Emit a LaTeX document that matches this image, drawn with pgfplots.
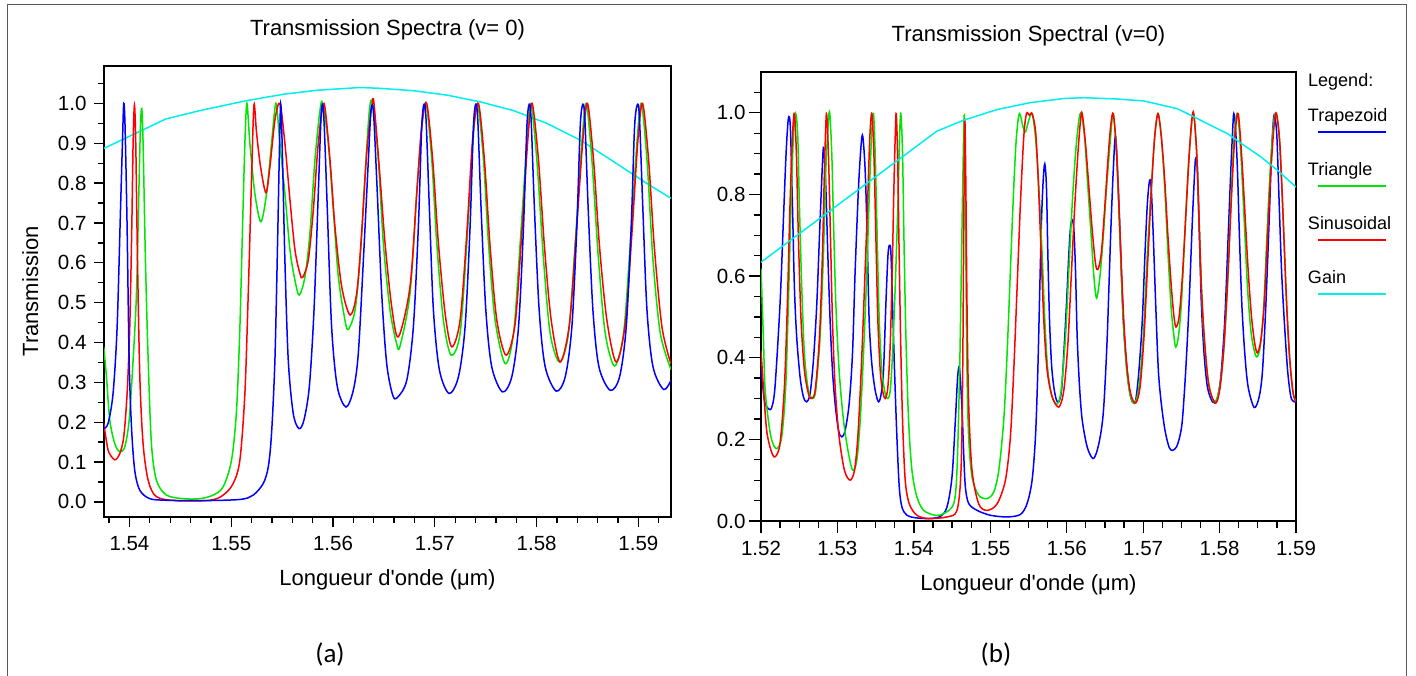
\documentclass[border=0pt]{standalone}
\usepackage{fontspec}
\setmainfont{Liberation Sans}[Ligatures=TeXOff]
\newfontfamily\capfont{Carlito}
\usepackage{pgfplots}
\pgfplotsset{compat=1.18}
\definecolor{cblue}{RGB}{0,0,255}
\definecolor{cgreen}{RGB}{0,230,0}
\definecolor{cred}{RGB}{255,0,0}
\definecolor{ccyan}{RGB}{0,238,238}
\definecolor{framecol}{RGB}{90,90,90}
\newcommand{\tickfont}{\fontsize{20.5}{24}\selectfont}
\newcommand{\labfont}{\fontsize{22}{26}\selectfont}
\pgfplotsset{
  mystyle/.style={
    scale only axis,
    axis line style={line width=1.5pt, black},
    tick style={line width=1.3pt, black},
    tick align=outside,
    xtick pos=bottom, ytick pos=left,
    /pgf/number format/assume math mode=true,
    tick label style={font=\tickfont},
    label style={font=\labfont},
    title style={font=\labfont},
    scaled x ticks=false, scaled y ticks=false,
    xticklabel style={/pgf/number format/fixed, /pgf/number format/fixed zerofill, /pgf/number format/precision=2},
    yticklabel style={/pgf/number format/fixed, /pgf/number format/fixed zerofill, /pgf/number format/precision=1},
    every axis plot/.append style={line width=1.5pt, mark=none, smooth, tension=0.5},
  }
}
\begin{document}
\begin{tikzpicture}[x=1pt,y=1pt]
\path[use as bounding box] (0,0) rectangle (1416,676);
\draw[framecol, line width=1.2pt] (7.5,0) -- (7.5,671.5) -- (1406.5,671.5) -- (1406.5,0);
% ---------------- panel (a)
\begin{axis}[mystyle, at={(104pt,159pt)}, anchor=south west, width=567pt, height=451pt,
  xmin=1.5375, xmax=1.5932, ymin=-0.038, ymax=1.094,
  major tick length=10pt, minor tick length=6pt,
  xtick={1.54,1.55,1.56,1.57,1.58,1.59},
  minor xtick={1.538,1.542,1.544,1.546,1.548,1.552,1.554,1.556,1.558,1.562,1.564,1.566,1.568,1.572,1.574,1.576,1.578,1.582,1.584,1.586,1.588,1.592},
  ytick={0,0.1,0.2,0.3,0.4,0.5,0.6,0.7,0.8,0.9,1.0},
  minor ytick={0.05,0.15,0.25,0.35,0.45,0.55,0.65,0.75,0.85,0.95,1.05},
  xticklabel style={yshift=-6pt},
  yticklabel style={xshift=-4pt},
  title={Transmission Spectra (v= 0)},
  title style={at={(axis description cs:0.5,1.0543)}, anchor=base},
  xlabel={Longueur d'onde (μm)},
  xlabel style={at={(axis description cs:0.5,-0.153)}, anchor=base},
  ylabel={Transmission},
  ylabel style={at={(axis description cs:-0.1164,0.5)}, anchor=base},
]
\addplot[ccyan, sharp plot] coordinates {(1.53748,0.887)(1.54357,0.961)(1.54692,0.982)(1.55150,1.007)(1.55511,1.023)(1.55839,1.033)(1.56265,1.040)(1.56461,1.038)(1.56789,1.032)(1.57117,1.021)(1.57445,1.004)(1.57773,0.982)(1.58100,0.950)(1.58428,0.908)(1.58756,0.854)(1.59084,0.799)(1.59320,0.762)};
\addplot[cgreen] coordinates {(1.53748,0.389)(1.53774,0.314)(1.53807,0.205)(1.53856,0.146)(1.53905,0.126)(1.53954,0.138)(1.53997,0.205)(1.54036,0.356)(1.54069,0.523)(1.54092,0.774)(1.54108,0.941)(1.54121,0.987)(1.54134,0.900)(1.54157,0.607)(1.54184,0.356)(1.54216,0.146)(1.54265,0.054)(1.54364,0.017)(1.54528,0.008)(1.54692,0.008)(1.54823,0.017)(1.54921,0.038)(1.55003,0.105)(1.55052,0.230)(1.55085,0.439)(1.55111,0.690)(1.55134,0.900)(1.55154,1.000)(1.55183,0.900)(1.55232,0.774)(1.55291,0.703)(1.55347,0.774)(1.55396,0.900)(1.55439,1.000)(1.55478,0.900)(1.55527,0.774)(1.55577,0.632)(1.55626,0.556)(1.55668,0.519)(1.55724,0.565)(1.55773,0.674)(1.55822,0.858)(1.55872,0.983)(1.55898,1.000)(1.55953,0.900)(1.56003,0.732)(1.56052,0.565)(1.56117,0.456)(1.56150,0.433)(1.56216,0.481)(1.56265,0.607)(1.56314,0.816)(1.56357,0.983)(1.56389,1.000)(1.56445,0.858)(1.56494,0.649)(1.56560,0.481)(1.56625,0.397)(1.56658,0.391)(1.56756,0.523)(1.56822,0.774)(1.56871,0.941)(1.56914,1.000)(1.56970,0.858)(1.57019,0.649)(1.57084,0.456)(1.57160,0.368)(1.57248,0.423)(1.57314,0.649)(1.57373,0.900)(1.57419,1.000)(1.57478,0.858)(1.57527,0.649)(1.57592,0.456)(1.57691,0.347)(1.57773,0.423)(1.57838,0.649)(1.57904,0.900)(1.57943,1.000)(1.58002,0.858)(1.58068,0.607)(1.58133,0.423)(1.58225,0.351)(1.58313,0.423)(1.58379,0.649)(1.58444,0.900)(1.58487,1.000)(1.58543,0.858)(1.58608,0.607)(1.58674,0.423)(1.58766,0.341)(1.58854,0.423)(1.58920,0.649)(1.58985,0.900)(1.59028,1.000)(1.59084,0.858)(1.59143,0.607)(1.59215,0.423)(1.59320,0.332)};
\addplot[cred] coordinates {(1.53748,0.197)(1.53790,0.130)(1.53839,0.109)(1.53866,0.106)(1.53905,0.121)(1.53944,0.163)(1.53977,0.272)(1.54003,0.439)(1.54023,0.690)(1.54036,0.900)(1.54049,0.996)(1.54062,0.900)(1.54079,0.607)(1.54102,0.314)(1.54134,0.146)(1.54184,0.054)(1.54265,0.013)(1.54462,0.003)(1.54790,0.004)(1.54921,0.017)(1.55019,0.046)(1.55085,0.105)(1.55134,0.272)(1.55167,0.523)(1.55200,0.816)(1.55223,0.996)(1.55249,0.925)(1.55288,0.841)(1.55341,0.776)(1.55380,0.841)(1.55429,0.958)(1.55478,1.000)(1.55527,0.900)(1.55577,0.757)(1.55626,0.632)(1.55675,0.573)(1.55701,0.563)(1.55757,0.607)(1.55806,0.732)(1.55855,0.900)(1.55911,1.000)(1.55970,0.858)(1.56019,0.690)(1.56085,0.540)(1.56167,0.469)(1.56232,0.523)(1.56281,0.674)(1.56330,0.874)(1.56380,0.992)(1.56402,1.000)(1.56461,0.816)(1.56511,0.649)(1.56576,0.490)(1.56642,0.414)(1.56756,0.540)(1.56822,0.774)(1.56871,0.941)(1.56920,1.000)(1.56979,0.858)(1.57035,0.649)(1.57101,0.473)(1.57166,0.389)(1.57248,0.456)(1.57314,0.674)(1.57373,0.916)(1.57428,1.000)(1.57487,0.858)(1.57543,0.640)(1.57609,0.456)(1.57700,0.368)(1.57789,0.448)(1.57854,0.674)(1.57913,0.908)(1.57956,1.000)(1.58018,0.858)(1.58077,0.640)(1.58143,0.456)(1.58231,0.351)(1.58323,0.448)(1.58389,0.674)(1.58454,0.908)(1.58500,1.000)(1.58559,0.858)(1.58618,0.640)(1.58690,0.456)(1.58782,0.351)(1.58871,0.448)(1.58936,0.674)(1.58995,0.908)(1.59041,1.000)(1.59100,0.858)(1.59156,0.640)(1.59231,0.439)(1.59320,0.346)};
\addplot[cblue] coordinates {(1.53748,0.184)(1.53790,0.197)(1.53839,0.272)(1.53879,0.439)(1.53912,0.732)(1.53931,0.900)(1.53944,1.000)(1.53957,0.941)(1.53977,0.690)(1.53997,0.356)(1.54020,0.188)(1.54052,0.079)(1.54102,0.029)(1.54200,0.008)(1.54364,0.004)(1.54692,0.003)(1.55085,0.006)(1.55216,0.017)(1.55314,0.046)(1.55364,0.088)(1.55396,0.172)(1.55429,0.356)(1.55455,0.649)(1.55478,0.941)(1.55488,0.996)(1.55504,0.858)(1.55527,0.607)(1.55560,0.356)(1.55609,0.222)(1.55665,0.184)(1.55714,0.205)(1.55767,0.289)(1.55813,0.481)(1.55855,0.774)(1.55882,0.967)(1.55898,0.996)(1.55914,0.941)(1.55944,0.732)(1.55986,0.439)(1.56042,0.289)(1.56127,0.238)(1.56199,0.280)(1.56248,0.372)(1.56298,0.607)(1.56347,0.858)(1.56370,0.975)(1.56386,0.996)(1.56402,0.958)(1.56435,0.774)(1.56478,0.523)(1.56527,0.347)(1.56586,0.268)(1.56632,0.262)(1.56724,0.305)(1.56789,0.439)(1.56838,0.690)(1.56871,0.941)(1.56894,0.998)(1.56914,0.958)(1.56947,0.732)(1.56986,0.481)(1.57045,0.331)(1.57140,0.272)(1.57232,0.314)(1.57297,0.439)(1.57346,0.690)(1.57379,0.941)(1.57402,0.998)(1.57422,0.958)(1.57455,0.732)(1.57501,0.481)(1.57559,0.339)(1.57664,0.276)(1.57756,0.314)(1.57822,0.439)(1.57871,0.690)(1.57904,0.941)(1.57927,0.998)(1.57946,0.958)(1.57979,0.732)(1.58025,0.481)(1.58084,0.339)(1.58192,0.278)(1.58281,0.314)(1.58346,0.439)(1.58395,0.690)(1.58428,0.941)(1.58454,0.998)(1.58474,0.958)(1.58507,0.732)(1.58553,0.481)(1.58612,0.339)(1.58723,0.280)(1.58815,0.314)(1.58880,0.439)(1.58929,0.690)(1.58962,0.941)(1.58992,0.998)(1.59011,0.958)(1.59044,0.732)(1.59084,0.481)(1.59143,0.339)(1.59247,0.282)(1.59320,0.305)};
\end{axis}
% ---------------- panel (b)
\begin{axis}[mystyle, at={(761pt,155pt)}, anchor=south west, width=535pt, height=449pt,
  xmin=1.52, xmax=1.59, ymin=0, ymax=1.1,
  major tick length=12pt, minor tick length=7pt,
  xtick={1.52,1.53,1.54,1.55,1.56,1.57,1.58,1.59},
  minor xtick={1.5225,1.525,1.5275,1.5325,1.535,1.5375,1.5425,1.545,1.5475,1.5525,1.555,1.5575,1.5625,1.565,1.5675,1.5725,1.575,1.5775,1.5825,1.585,1.5875},
  ytick={0,0.2,0.4,0.6,0.8,1.0},
  minor ytick={0.05,0.1,0.15,0.25,0.3,0.35,0.45,0.5,0.55,0.65,0.7,0.75,0.85,0.9,0.95,1.05},
  xticklabel style={yshift=-5pt},
  title={Transmission Spectral (v=0)},
  title style={at={(axis description cs:0.5,1.0535)}, anchor=base},
  xlabel={Longueur d'onde (μm)},
  xlabel style={at={(axis description cs:0.5,-0.1559)}, anchor=base},
  legend style={draw=none, fill=none, at={(axis description cs:1.0224,0.9198)}, anchor=north west,
    inner sep=0pt, outer sep=0pt, row sep=37pt, column sep=0pt,
    font=\fontsize{18}{21}\selectfont,
    nodes={inner sep=0pt, text height=13pt, text depth=4pt}},
  legend cell align=left,
  legend image code/.code={\pgfinterruptboundingbox\draw[#1,line width=2pt] (10pt,-15pt) -- (78pt,-15pt);\endpgfinterruptboundingbox},
]
\addplot[cblue] coordinates {(1.52000,0.377)(1.52044,0.296)(1.52096,0.275)(1.52140,0.278)(1.52183,0.328)(1.52249,0.532)(1.52293,0.737)(1.52328,0.900)(1.52358,0.986)(1.52384,0.965)(1.52411,0.777)(1.52437,0.573)(1.52467,0.451)(1.52511,0.353)(1.52555,0.304)(1.52599,0.292)(1.52642,0.312)(1.52686,0.394)(1.52730,0.532)(1.52773,0.737)(1.52804,0.875)(1.52821,0.914)(1.52848,0.818)(1.52874,0.655)(1.52904,0.492)(1.52935,0.369)(1.52970,0.287)(1.53014,0.222)(1.53057,0.206)(1.53101,0.222)(1.53153,0.287)(1.53197,0.410)(1.53232,0.614)(1.53276,0.818)(1.53311,0.924)(1.53332,0.942)(1.53363,0.859)(1.53389,0.696)(1.53415,0.492)(1.53450,0.385)(1.53494,0.320)(1.53538,0.292)(1.53573,0.312)(1.53603,0.369)(1.53634,0.532)(1.53660,0.647)(1.53678,0.675)(1.53699,0.659)(1.53721,0.532)(1.53747,0.369)(1.53778,0.206)(1.53809,0.083)(1.53844,0.034)(1.53909,0.014)(1.54018,0.008)(1.54193,0.006)(1.54346,0.011)(1.54433,0.034)(1.54499,0.108)(1.54543,0.247)(1.54573,0.353)(1.54595,0.377)(1.54617,0.320)(1.54634,0.255)(1.54652,0.165)(1.54674,0.083)(1.54717,0.043)(1.54827,0.026)(1.55001,0.014)(1.55220,0.010)(1.55394,0.016)(1.55482,0.043)(1.55547,0.100)(1.55591,0.206)(1.55622,0.369)(1.55648,0.573)(1.55670,0.737)(1.55692,0.834)(1.55713,0.875)(1.55735,0.818)(1.55753,0.655)(1.55775,0.492)(1.55801,0.385)(1.55831,0.328)(1.55866,0.296)(1.55897,0.292)(1.55932,0.320)(1.55962,0.410)(1.55997,0.532)(1.56028,0.655)(1.56050,0.720)(1.56072,0.738)(1.56094,0.712)(1.56115,0.614)(1.56137,0.451)(1.56168,0.328)(1.56203,0.247)(1.56268,0.181)(1.56343,0.153)(1.56399,0.173)(1.56452,0.222)(1.56487,0.287)(1.56530,0.451)(1.56574,0.696)(1.56609,0.859)(1.56640,0.941)(1.56683,0.777)(1.56714,0.614)(1.56740,0.492)(1.56771,0.410)(1.56814,0.328)(1.56858,0.292)(1.56902,0.296)(1.56945,0.369)(1.56989,0.492)(1.57024,0.655)(1.57055,0.777)(1.57085,0.835)(1.57107,0.810)(1.57133,0.696)(1.57164,0.532)(1.57199,0.369)(1.57238,0.287)(1.57286,0.222)(1.57339,0.181)(1.57382,0.173)(1.57435,0.181)(1.57478,0.206)(1.57513,0.247)(1.57557,0.369)(1.57601,0.532)(1.57644,0.737)(1.57675,0.859)(1.57688,0.888)(1.57710,0.859)(1.57736,0.696)(1.57762,0.532)(1.57797,0.410)(1.57841,0.328)(1.57907,0.292)(1.57963,0.296)(1.58016,0.353)(1.58068,0.492)(1.58112,0.696)(1.58147,0.859)(1.58173,0.965)(1.58186,0.998)(1.58208,0.965)(1.58234,0.859)(1.58260,0.696)(1.58291,0.532)(1.58330,0.410)(1.58374,0.328)(1.58453,0.278)(1.58518,0.304)(1.58562,0.369)(1.58606,0.532)(1.58649,0.737)(1.58680,0.900)(1.58706,0.986)(1.58724,0.990)(1.58750,0.941)(1.58780,0.777)(1.58811,0.614)(1.58846,0.492)(1.58890,0.369)(1.58933,0.304)(1.58977,0.292)(1.59000,0.292)};
\addlegendentry{Trapezoid}
\addplot[cgreen] coordinates {(1.52000,0.618)(1.52031,0.451)(1.52052,0.328)(1.52096,0.247)(1.52140,0.198)(1.52205,0.177)(1.52271,0.206)(1.52323,0.328)(1.52358,0.532)(1.52393,0.777)(1.52424,0.941)(1.52454,0.998)(1.52481,0.941)(1.52502,0.777)(1.52533,0.573)(1.52568,0.410)(1.52620,0.320)(1.52673,0.300)(1.52716,0.320)(1.52773,0.451)(1.52817,0.655)(1.52848,0.859)(1.52882,0.982)(1.52900,0.998)(1.52926,0.900)(1.52948,0.737)(1.52979,0.532)(1.53022,0.369)(1.53079,0.247)(1.53145,0.165)(1.53201,0.124)(1.53254,0.149)(1.53298,0.247)(1.53341,0.410)(1.53385,0.614)(1.53420,0.818)(1.53450,0.957)(1.53472,0.998)(1.53494,0.900)(1.53520,0.696)(1.53547,0.492)(1.53581,0.369)(1.53625,0.312)(1.53660,0.300)(1.53691,0.320)(1.53721,0.410)(1.53756,0.573)(1.53791,0.777)(1.53813,0.941)(1.53830,0.998)(1.53852,0.900)(1.53870,0.696)(1.53896,0.451)(1.53931,0.247)(1.53975,0.124)(1.54040,0.059)(1.54128,0.026)(1.54281,0.014)(1.54390,0.018)(1.54521,0.042)(1.54564,0.124)(1.54599,0.369)(1.54621,0.614)(1.54639,0.818)(1.54661,0.994)(1.54678,0.696)(1.54695,0.369)(1.54717,0.206)(1.54761,0.108)(1.54848,0.063)(1.54958,0.055)(1.55045,0.071)(1.55111,0.124)(1.55176,0.247)(1.55220,0.410)(1.55263,0.614)(1.55307,0.818)(1.55342,0.941)(1.55381,0.998)(1.55429,0.965)(1.55460,0.953)(1.55504,0.982)(1.55547,0.998)(1.55591,0.941)(1.55635,0.818)(1.55678,0.655)(1.55713,0.492)(1.55753,0.369)(1.55810,0.304)(1.55875,0.287)(1.55927,0.320)(1.55984,0.451)(1.56028,0.614)(1.56072,0.777)(1.56115,0.900)(1.56159,0.982)(1.56190,0.998)(1.56233,0.941)(1.56277,0.818)(1.56321,0.696)(1.56356,0.598)(1.56391,0.546)(1.56434,0.598)(1.56478,0.696)(1.56522,0.818)(1.56574,0.941)(1.56609,0.998)(1.56653,0.900)(1.56696,0.696)(1.56740,0.492)(1.56784,0.369)(1.56836,0.304)(1.56889,0.289)(1.56945,0.328)(1.57002,0.451)(1.57055,0.655)(1.57107,0.818)(1.57151,0.941)(1.57194,0.998)(1.57238,0.941)(1.57282,0.818)(1.57325,0.655)(1.57369,0.516)(1.57404,0.451)(1.57426,0.426)(1.57461,0.451)(1.57500,0.532)(1.57544,0.696)(1.57588,0.859)(1.57631,0.965)(1.57662,0.998)(1.57701,0.900)(1.57732,0.737)(1.57762,0.573)(1.57797,0.451)(1.57850,0.345)(1.57928,0.292)(1.57994,0.320)(1.58051,0.410)(1.58103,0.573)(1.58147,0.777)(1.58190,0.941)(1.58234,0.998)(1.58278,0.900)(1.58322,0.737)(1.58365,0.573)(1.58409,0.467)(1.58453,0.418)(1.58488,0.402)(1.58531,0.426)(1.58575,0.516)(1.58619,0.696)(1.58662,0.859)(1.58706,0.973)(1.58737,0.998)(1.58780,0.941)(1.58824,0.777)(1.58868,0.573)(1.58911,0.410)(1.58955,0.320)(1.59000,0.292)};
\addlegendentry{Triangle}
\addplot[cred] coordinates {(1.52000,0.418)(1.52031,0.328)(1.52074,0.222)(1.52131,0.173)(1.52183,0.157)(1.52249,0.190)(1.52306,0.328)(1.52345,0.532)(1.52380,0.777)(1.52411,0.941)(1.52437,0.998)(1.52463,0.900)(1.52489,0.696)(1.52524,0.492)(1.52568,0.369)(1.52620,0.312)(1.52655,0.300)(1.52708,0.320)(1.52765,0.451)(1.52804,0.655)(1.52830,0.859)(1.52856,0.998)(1.52882,0.900)(1.52909,0.696)(1.52935,0.492)(1.52970,0.328)(1.53022,0.206)(1.53092,0.124)(1.53166,0.100)(1.53223,0.124)(1.53267,0.206)(1.53311,0.369)(1.53354,0.573)(1.53394,0.777)(1.53424,0.941)(1.53450,0.998)(1.53477,0.900)(1.53503,0.696)(1.53529,0.492)(1.53560,0.369)(1.53590,0.320)(1.53625,0.300)(1.53660,0.328)(1.53691,0.434)(1.53717,0.614)(1.53739,0.818)(1.53756,0.941)(1.53769,0.998)(1.53787,0.900)(1.53804,0.696)(1.53826,0.451)(1.53852,0.247)(1.53887,0.100)(1.53940,0.042)(1.54040,0.014)(1.54193,0.006)(1.54433,0.010)(1.54564,0.026)(1.54617,0.124)(1.54639,0.369)(1.54652,0.696)(1.54665,0.982)(1.54678,0.859)(1.54695,0.532)(1.54717,0.287)(1.54761,0.124)(1.54848,0.042)(1.54958,0.026)(1.55089,0.042)(1.55198,0.100)(1.55263,0.206)(1.55307,0.369)(1.55351,0.573)(1.55394,0.777)(1.55438,0.941)(1.55473,0.998)(1.55512,0.994)(1.55547,0.998)(1.55591,0.957)(1.55622,0.859)(1.55657,0.696)(1.55700,0.492)(1.55744,0.369)(1.55810,0.304)(1.55897,0.279)(1.55962,0.320)(1.56015,0.434)(1.56059,0.598)(1.56102,0.761)(1.56146,0.900)(1.56181,0.982)(1.56203,0.998)(1.56246,0.924)(1.56290,0.818)(1.56334,0.712)(1.56377,0.630)(1.56408,0.616)(1.56452,0.655)(1.56495,0.761)(1.56539,0.884)(1.56574,0.965)(1.56609,0.998)(1.56653,0.900)(1.56696,0.712)(1.56740,0.516)(1.56784,0.385)(1.56836,0.312)(1.56902,0.289)(1.56959,0.328)(1.57011,0.451)(1.57063,0.647)(1.57107,0.810)(1.57151,0.941)(1.57194,0.998)(1.57238,0.941)(1.57282,0.835)(1.57325,0.696)(1.57369,0.573)(1.57404,0.500)(1.57430,0.475)(1.57470,0.500)(1.57513,0.598)(1.57557,0.745)(1.57601,0.892)(1.57636,0.982)(1.57662,0.998)(1.57701,0.900)(1.57732,0.737)(1.57762,0.573)(1.57806,0.434)(1.57863,0.328)(1.57950,0.289)(1.58007,0.328)(1.58059,0.434)(1.58112,0.614)(1.58156,0.794)(1.58199,0.941)(1.58243,0.998)(1.58287,0.900)(1.58330,0.761)(1.58374,0.614)(1.58418,0.500)(1.58461,0.434)(1.58496,0.412)(1.58540,0.443)(1.58584,0.532)(1.58627,0.696)(1.58671,0.859)(1.58715,0.973)(1.58745,0.998)(1.58789,0.924)(1.58833,0.737)(1.58877,0.532)(1.58920,0.394)(1.58964,0.312)(1.59000,0.292)};
\addlegendentry{Sinusoidal}
\addplot[ccyan, sharp plot] coordinates {(1.52000,0.634)(1.54300,0.955)(1.54652,0.982)(1.55089,1.008)(1.55526,1.025)(1.55962,1.035)(1.56224,1.037)(1.56640,1.034)(1.57011,1.029)(1.57448,1.010)(1.57666,0.990)(1.57885,0.969)(1.58103,0.949)(1.58322,0.920)(1.58540,0.892)(1.58759,0.859)(1.59000,0.818)};
\addlegendentry{Gain}
\draw[line width=1.5pt] (axis description cs:-0.0206,1) -- (axis description cs:0,1);
\draw[line width=1.5pt] (axis description cs:-0.0206,0) -- (axis description cs:0,0);
\end{axis}
\node[anchor=base west, inner sep=0pt, font=\fontsize{18}{21}\selectfont] at (1308,589.3) {Legend:};
\node[font=\capfont\fontsize{27}{32}\selectfont] at (330,21) {(a)};
\node[font=\capfont\fontsize{27}{32}\selectfont] at (996,21) {(b)};
\end{tikzpicture}
\end{document}
